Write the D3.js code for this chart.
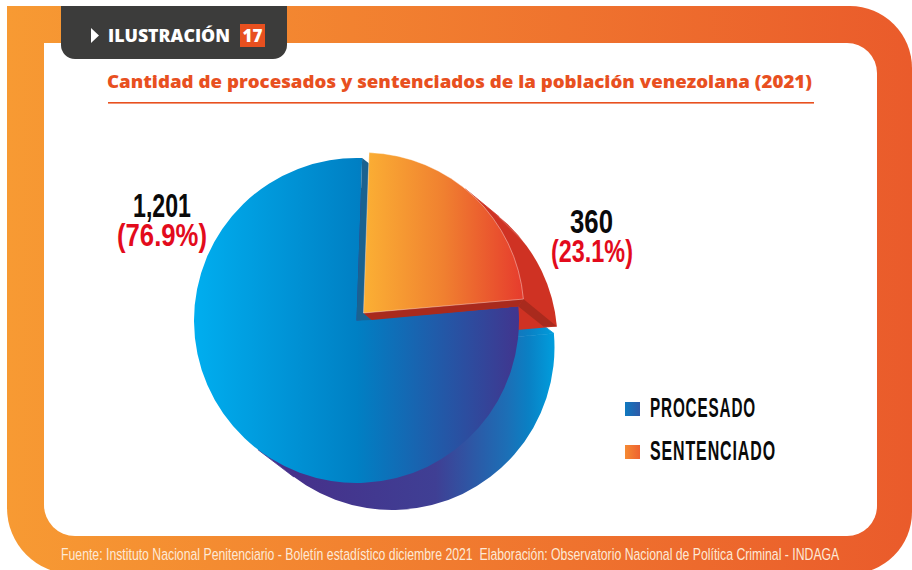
<!DOCTYPE html>
<html><head><meta charset="utf-8">
<script src="https://cdn.jsdelivr.net/npm/d3@7"></script>
<style>html,body{margin:0;padding:0;background:#fff}svg{display:block}</style>
</head><body><svg id="c" width="912" height="570"></svg>
<script>
const categories = ["PROCESADO", "SENTENCIADO"];
const values = [1201, 360];
const valueLabels = ["1,201", "360"];
const shareLabels = ["(76.9%)", "(23.1%)"];
const titleText = "Cantidad de procesados y sentenciados de la población venezolana (2021)";
const footerText = "Fuente: Instituto Nacional Penitenciario - Boletín estadístico diciembre 2021  Elaboración: Observatorio Nacional de Política Criminal - INDAGA";

const svg = d3.select("#c");
const defs = svg.append("defs");
function grad(id, x1, x2, stops) {
  const g = defs.append("linearGradient").attr("id", id).attr("gradientUnits", "userSpaceOnUse")
    .attr("x1", x1).attr("x2", x2).attr("y1", 0).attr("y2", 0);
  stops.forEach(s => g.append("stop").attr("offset", s[0]).attr("stop-color", s[1]));
}
const blueC = [356.5, 320.5], blueR = 162.5, blueOff = [35.5, 27];
const orangeC = [363.5, 313], orangeR = 160.5, orangeOff = [33.5, 27.5];
const sideStops = [[0, "#46308a"], [0.55, "#3f3f94"], [0.82, "#1c6fb6"], [0.9, "#0a80c4"], [1, "#009edd"]];
grad("frame", 7, 912, [[0, "#f79a33"], [1, "#ea5b2b"]]);
grad("blueFace", -blueR, blueR, [[0, "#00aeef"], [0.5, "#0080c4"], [1, "#41358e"]]);
grad("blueSide", 290, 555, sideStops);
grad("blueSideLocal", 290 - blueC[0] - blueOff[0], 555 - blueC[0] - blueOff[0], sideStops);
grad("orangeFace", 0, orangeR, [[0, "#fbb034"], [0.5, "#f08030"], [1, "#e63b2d"]]);
grad("sw1", 625, 640, [[0, "#0f79bf"], [1, "#2f5aa8"]]);
grad("sw2", 625, 640, [[0, "#f58a33"], [1, "#ee6230"]]);

// frame
const rr = (x0, y0, x1, y1, tl, tr, br, bl) =>
  `M${x0 + tl},${y0}H${x1 - tr}A${tr},${tr} 0 0 1 ${x1},${y0 + tr}V${y1 - br}A${br},${br} 0 0 1 ${x1 - br},${y1}H${x0 + bl}A${bl},${bl} 0 0 1 ${x0},${y1 - bl}V${y0 + tl}A${tl},${tl} 0 0 1 ${x0 + tl},${y0}Z`;
svg.append("path").attr("d", rr(7, 6, 912, 574, 0, 62, 62, 66)).attr("fill", "url(#frame)");
svg.append("path").attr("d", rr(44, 43, 877, 536, 0, 30, 30, 31)).attr("fill", "#fff");

// tab
svg.append("path").attr("d", rr(61, 6, 287, 59, 0, 0, 14, 14)).attr("fill", "#3c3c3b");
svg.append("path").attr("d", "M91,28L99,35.5L91,43Z").attr("fill", "#fff");
svg.append("text").text("ILUSTRACIÓN").attr("x", 108).attr("y", 41.5)
  .attr("font-family", "Open Sans").attr("font-weight", 800).attr("font-size", 17.5)
  .attr("textLength", 122).attr("lengthAdjust", "spacingAndGlyphs").attr("fill", "#fff");
svg.append("rect").attr("x", 240).attr("y", 24).attr("width", 25).attr("height", 23).attr("fill", "#e8501f");
svg.append("text").text("17").attr("x", 252.5).attr("y", 41.5).attr("text-anchor", "middle")
  .attr("font-family", "Open Sans").attr("font-weight", 800).attr("font-size", 17).attr("fill", "#fff");

// title
svg.append("text").text(titleText).attr("x", 107).attr("y", 88)
  .attr("font-family", "Open Sans").attr("font-weight", 800).attr("font-size", 17.5)
  .attr("textLength", 705).attr("lengthAdjust", "spacingAndGlyphs").attr("fill", "#e8501f");
svg.append("rect").attr("x", 108).attr("y", 102).attr("width", 706).attr("height", 1.6).attr("fill", "#e8501f");

// pie
const rad = Math.PI / 180;
const pie = d3.pie().sort(null).startAngle(2 * rad - 2 * Math.PI * values[0] / d3.sum(values))
  .endAngle(2 * rad + 2 * Math.PI * values[1] / d3.sum(values));
const arcs = pie(values);
const blue = arcs[0], orange = arcs[1];

const arcPath = r => d3.arc().innerRadius(0).outerRadius(r);
const pt = (c, r, a, o = [0, 0]) => [c[0] + o[0] + r * Math.sin(a), c[1] + o[1] - r * Math.cos(a)];
const line = d3.line();
const plus = (c, o) => [c[0] + o[0], c[1] + o[1]];
const poly = (pts, fill, seam) => svg.append("path").attr("d", line(pts) + "Z").attr("fill", fill)
  .attr("stroke", seam ? fill : "none").attr("stroke-width", seam ? 0.8 : 0);
const sector = (d, c, r, fill, stroke) => svg.append("path").attr("d", arcPath(r)(d))
  .attr("transform", `translate(${c[0]},${c[1]})`).attr("fill", fill)
  .attr("stroke", stroke || "none").attr("stroke-width", stroke ? 0.7 : 0);

// blue extrusion: swept side of the big slice
const blueSw = Math.atan2(blueOff[0], -blueOff[1]);
const blueTan = blueSw + Math.PI / 2;
sector(blue, plus(blueC, blueOff), blueR, "url(#blueSideLocal)");
poly([pt(blueC, blueR, blueTan), pt(blueC, blueR, blueTan, blueOff), plus(blueC, blueOff), blueC], "url(#blueSide)", true);
poly([blueC, pt(blueC, blueR, blue.startAngle), pt(blueC, blueR, blue.startAngle, blueOff), plus(blueC, blueOff)], "url(#blueSide)", true);

// red extrusion: swept side of the small slice
const orSw = Math.atan2(orangeOff[0], -orangeOff[1]);
const orTan = orSw - Math.PI / 2 + 2 * Math.PI;
const orTanA = orTan > orange.endAngle ? orTan - 2 * Math.PI : orTan;
sector(orange, plus(orangeC, orangeOff), orangeR, "#cf3223");
poly([pt(orangeC, orangeR, orTanA), pt(orangeC, orangeR, orTanA, orangeOff), plus(orangeC, orangeOff), orangeC], "#cf3223", true);
// faint facet line on the red side
const facetA = pt(orangeC, orangeR + 3, 45 * rad);
svg.append("path").attr("d", line([facetA, plus(facetA, [53, 53])])).attr("stroke", "rgba(255,255,255,0.3)").attr("stroke-width", 0.7).attr("fill", "none");
// dark wedge at the lower end of the small slice
poly([pt(orangeC, orangeR, orange.endAngle), pt(orangeC, orangeR, orange.endAngle, orangeOff),
      pt(blueC, blueR, blue.startAngle, [25, 20]), pt(blueC, blueR, blue.startAngle)], "#a92a1d");

// big face
sector(blue, blueC, blueR, "url(#blueFace)");
// walls
poly([pt(blueC, blueR, blue.endAngle), pt(orangeC, orangeR, orange.startAngle, [0, 11]), orangeC, plus(orangeC, [8, 7]), blueC], "#1a6290");
poly([orangeC, pt(orangeC, orangeR, orange.endAngle), pt(blueC, blueR, blue.startAngle), plus(orangeC, [8, 7])], "#a92a1d");
// small face
sector(orange, orangeC, orangeR, "url(#orangeFace)", "rgba(255,255,255,0.55)");

// condensed labels: fitted by a horizontal scale so the box is the true one
const cond = "Liberation Sans Narrow, Liberation Sans";
function lab(t, x, y, w, size, fill, weight, spacing) {
  const el = svg.append("text").text(t).attr("x", 0).attr("y", 0).attr("font-family", cond)
    .attr("font-size", size).attr("font-weight", weight).attr("fill", fill)
    .attr("letter-spacing", spacing || 0).attr("xml:space", "preserve").style("white-space", "pre");
  const k = w / el.node().getComputedTextLength();
  el.attr("transform", `translate(${x},${y}) scale(${k},1)`);
  return el;
}
lab(valueLabels[0], 133, 217, 58, 33, "#0a0a0a", 700);
lab(shareLabels[0], 117, 246, 90, 32, "#e30b1c", 700);
lab(valueLabels[1], 570, 233, 43, 33, "#0a0a0a", 700);
lab(shareLabels[1], 551, 262, 82, 32, "#e30b1c", 700);

// legend
const legendY = d3.scalePoint().domain(categories).range([402, 445]);
const swatches = ["url(#sw1)", "url(#sw2)"];
const legendW = [106, 126];
categories.forEach((c, i) => {
  svg.append("rect").attr("x", 625).attr("y", legendY(c)).attr("width", 15).attr("height", 14).attr("fill", swatches[i]);
  lab(c, 650, legendY(c) + 15, legendW[i], 27, "#0a0a0a", 700, 1.5);
});

// footer
lab(footerText, 61, 560, 779, 17, "#fde9d6", 400);
</script></body></html>
